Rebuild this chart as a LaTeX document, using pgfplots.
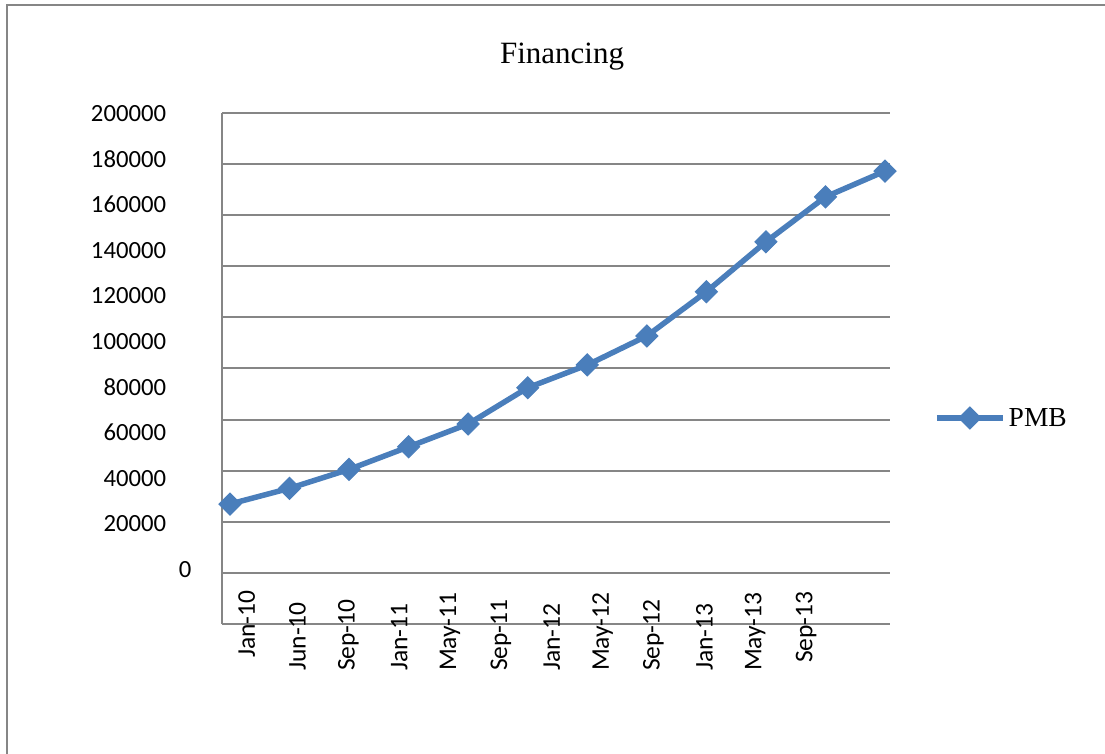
\documentclass[border=0pt]{standalone}
\usepackage{fontspec}
\setmainfont{Liberation Serif}
\newfontfamily\carlito{Carlito}
\usepackage{pgfplots}
\pgfplotsset{compat=1.18}
\definecolor{pmb}{HTML}{4A7EBB}
\definecolor{gridgray}{HTML}{868686}
\begin{document}
\begin{tikzpicture}[x=1pt,y=1pt]
\path[use as bounding box] (0,0) rectangle (1105,753);
\draw[gridgray, line width=2pt] (6.5,-5) -- (6.5,748) -- (1110,748);
\begin{axis}[
  at={(222.3pt,129pt)}, anchor=south west,
  scale only axis, width=667.7pt, height=511.3pt,
  xmin=-0.129, xmax=11.083,
  ymin=-23893, ymax=200300,
  scaled y ticks=false,
  axis lines=left,
  axis line style={-, gridgray, line width=2pt},
  clip=false,
  major tick length=0pt,
  xtick={0.280,1.134,1.988,2.842,3.696,4.550,5.403,6.257,7.111,7.965,8.819,9.673},
  xticklabels={\hspace*{13pt}Jan-10,Jun-10,Sep-10,Jan-11,May-11,Sep-11,Jan-12,May-12,Sep-12,Jan-13,May-13,\hspace*{8pt}Sep-13},
  xticklabel style={rotate=90, anchor=west, inner sep=0pt, font=\carlito\fontsize{25.5}{25.5}\selectfont},
  xticklabel shift=47pt,
  ytick={0,20000,40000,60000,80000,100000,120000,140000,160000,180000,200000},
  yticklabels={\rlap{\hspace{13.2pt}0},20000,40000,60000,80000,100000,120000,140000,160000,180000,200000},
  yticklabel style={anchor=east, inner sep=0pt, font=\carlito\fontsize{24.7}{24.7}\selectfont},
  yticklabel shift=56pt,
  extra y ticks={-1477,20939,43354,65770,88185,110601,133016,155432,177847,200263},
  extra y tick labels={},
  extra y tick style={grid=major},
  major grid style={gridgray, line width=2pt},
  title={Financing},
  title style={at={(0.5088,1.084)}, anchor=base, inner sep=0pt, font=\fontsize{31}{31}\selectfont},
  legend style={at={(1.0659,0.4029)}, anchor=west, draw=none, fill=none, inner sep=0pt,
    nodes={inner sep=3pt}, font=\fontsize{27.5}{27.5}\selectfont},
  legend image code/.code={\draw[mark repeat=2,mark phase=2,#1] plot coordinates {(0pt,0pt) (33pt,0pt) (66pt,0pt)};},
]
\addplot[pmb, line width=5.5pt, mark=square*, mark size=7.8pt,
  mark options={rotate=45, solid, fill=pmb, draw=pmb, line width=1pt}]
  coordinates {
  (0,28700) (1,35600) (2,43900) (3,53800) (4,63800) (5,79700)
  (6,89700) (7,102400) (8,121800) (9,143700) (10,163400) (11,174700)
  };
\addlegendentry{PMB}
\end{axis}
\end{tikzpicture}
\end{document}
